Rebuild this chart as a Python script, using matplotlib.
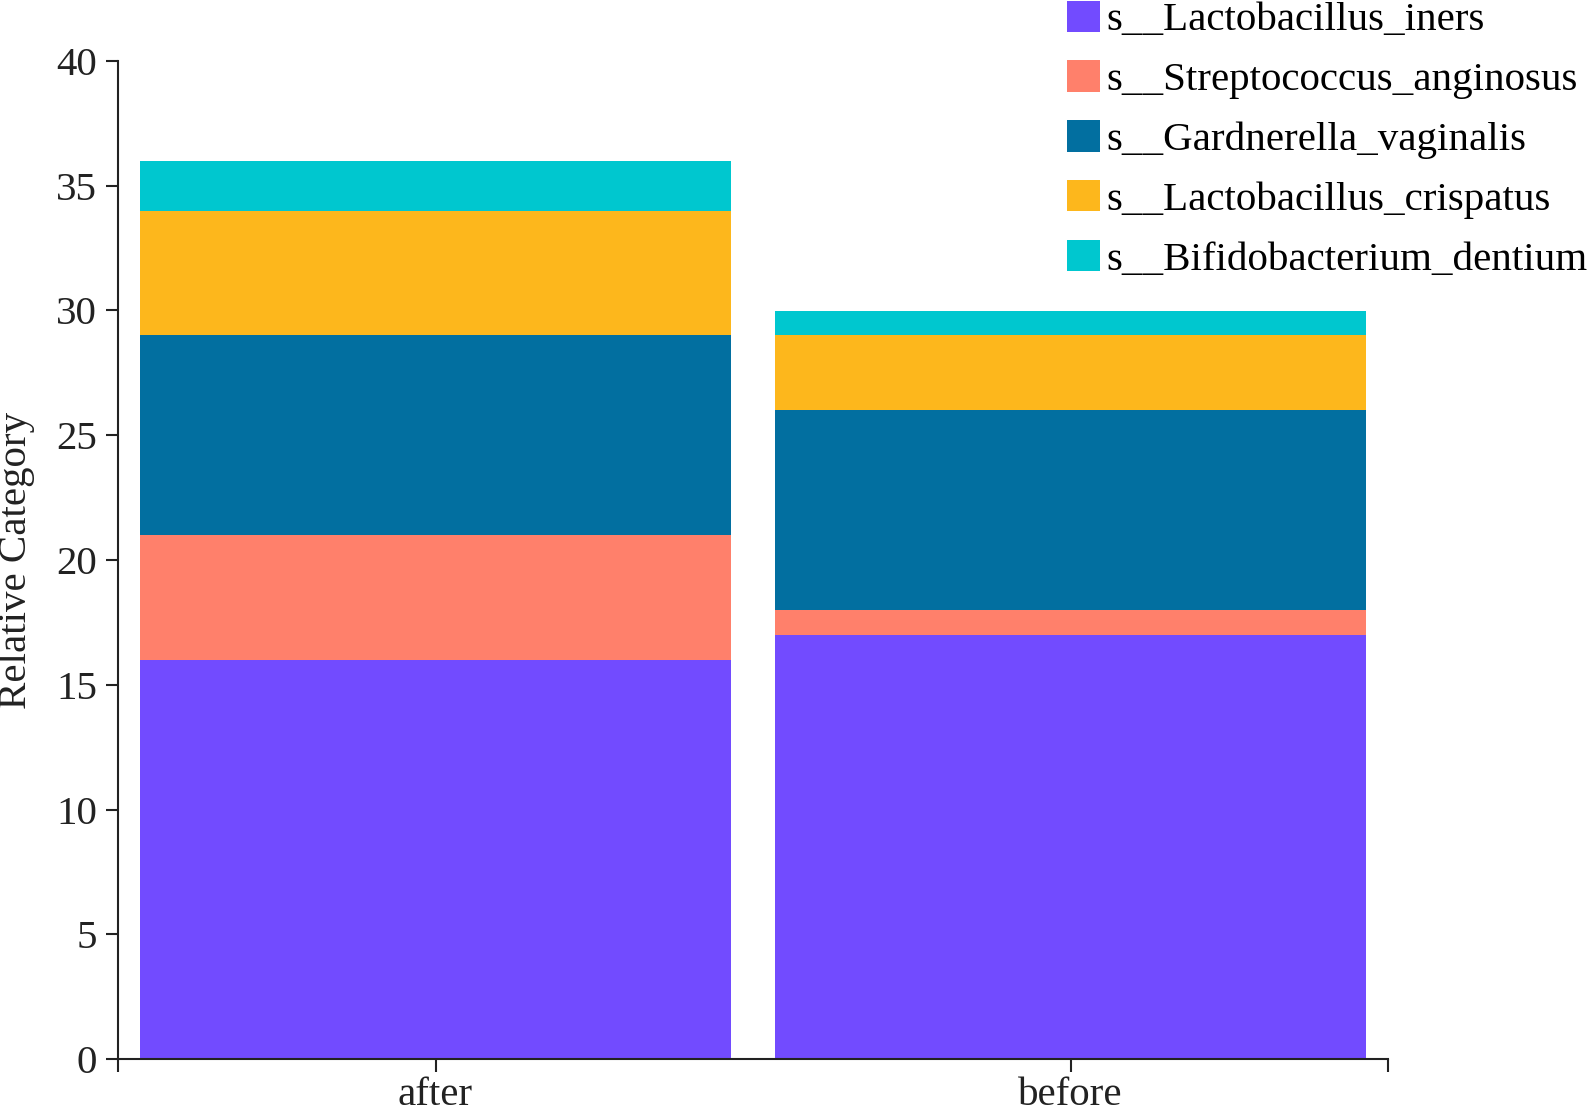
import numpy as np
import matplotlib.pyplot as plt

plt.rcParams['font.family'] = ['Liberation Serif', 'DejaVu Serif']

groups = ['after', 'before']
species = ['s__Lactobacillus_iners', 's__Streptococcus_anginosus',
           's__Gardnerella_vaginalis', 's__Lactobacillus_crispatus',
           's__Bifidobacterium_dentium']
iners = [16, 17]
anginosus = [5, 1]
vaginalis = [8, 8]
crispatus = [5, 3]
dentium = [2, 1]
colors = ['#724bff', '#ff806b', '#026fa0', '#fdb71c', '#00c7cf']

fig = plt.figure(figsize=(15.94, 11.11), dpi=100)
ax = fig.add_axes([118 / 1594, 1 - 1059 / 1111, 1270 / 1594, 998 / 1111])

x = np.arange(len(groups))
bottom = np.zeros(len(groups))
handles = []
for vals, col, name in zip([iners, anginosus, vaginalis, crispatus, dentium], colors, species):
    b = ax.bar(x, vals, width=0.93, bottom=bottom, color=col, label=name, linewidth=0)
    bottom += np.array(vals)
    handles.append(b)

ax.set_xlim(-0.5, 1.5)
ax.set_ylim(0, 40)
ax.set_yticks(np.arange(0, 41, 5))
ax.set_xticks([-0.5, 0, 1, 1.5])
ax.set_xticklabels(['', 'after', 'before', ''])

for s in ['top', 'right']:
    ax.spines[s].set_visible(False)
for s in ['left', 'bottom']:
    ax.spines[s].set_linewidth(1.5)
    ax.spines[s].set_color('#222222')
ax.tick_params(axis='both', labelsize=29.5, length=9, width=1.5, color='#222222',
               labelcolor='#222222')
ax.tick_params(axis='x', pad=4)
ax.tick_params(axis='y', pad=6)

ax.set_ylabel('Relative Category', fontsize=29.5, color='#222222')
ax.yaxis.set_label_coords(-0.065, 0.5)

fig.legend(handles=handles, loc='upper left', bbox_to_anchor=(1067 / 1594, 0.9995),
           frameon=False, fontsize=29.5, handlelength=0.8, handleheight=0.8,
           handletextpad=0.17, labelspacing=0.51, borderpad=0, borderaxespad=0)

plt.savefig('out.png', dpi=100)
